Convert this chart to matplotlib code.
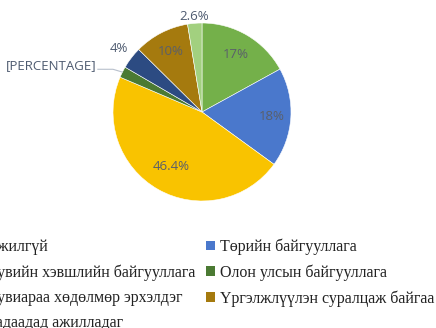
import numpy as np
import matplotlib.pyplot as plt
from matplotlib.patches import Patch

# graduate employment status, share of respondents (%)
categories = ['Ажилгүй', 'Төрийн байгууллага', 'Хувийн хэвшлийн байгууллага',
              'Олон улсын байгууллага', 'Хувиараа хөдөлмөр эрхэлдэг',
              'Үргэлжлүүлэн суралцаж байгаа', 'Гадаадад ажилладаг']
shares = [17, 18, 46.4, 2.0, 4, 10, 2.6]
pct_labels = ['17%', '18%', '46.4%', '[PERCENTAGE]', '4%', '10%', '2.6%']

colors = ['#74b04a', '#4a78cc', '#f9c300', '#4b7a33', '#2c4b82', '#a57a0e', '#a2d07f']
label_dist = [0.75, 0.79, 0.70, None, 1.18, 0.76, 1.08]
inside = [True, True, True, False, False, True, False]

fig = plt.figure(figsize=(4.36, 3.28), dpi=100)
cx, cy, r = 202, 112, 89
ax = fig.add_axes([(cx - r) / 436, (328 - cy - r) / 328, 2 * r / 436, 2 * r / 328])

wedges, _ = ax.pie(shares, colors=colors, startangle=90, counterclock=False,
                   wedgeprops=dict(edgecolor='white', linewidth=0.4))
ax.set_xlim(-1, 1)
ax.set_ylim(-1, 1)
ax.set_aspect('equal')

for w, lab, d, ins in zip(wedges, pct_labels, label_dist, inside):
    mid = np.deg2rad((w.theta1 + w.theta2) / 2)
    col = '#5a5f6a' if ins else '#4e5b70'
    if d is None:
        # small slice: label placed out left with a leader line
        ex, ey = np.cos(mid), np.sin(mid)
        ax.plot([-1.17, -1.0, ex], [0.48, 0.48, ey], color='#b8c0cc', lw=0.8, clip_on=False)
        ax.text(-1.19, 0.52, lab, ha='right', va='center', fontsize=9.5,
                color=col, family='Open Sans')
        continue
    ax.text(d * np.cos(mid), d * np.sin(mid), lab, ha='center', va='center',
            fontsize=9.5, color=col, family='Open Sans')

# legend fills column by column
order = [0, 2, 4, 6, 1, 3, 5]
handles = [Patch(facecolor=colors[i], label=categories[i]) for i in order]
fig.legend(handles=handles, loc='upper left', bbox_to_anchor=(-0.075, 0.292),
           ncol=2, frameon=False, borderaxespad=0,
           prop={'family': 'Liberation Serif', 'size': 11.5},
           handlelength=0.55, handleheight=0.55, handletextpad=0.3,
           columnspacing=0.65, labelspacing=0.58, labelcolor='#222222')

fig.savefig('out.png', dpi=100)
